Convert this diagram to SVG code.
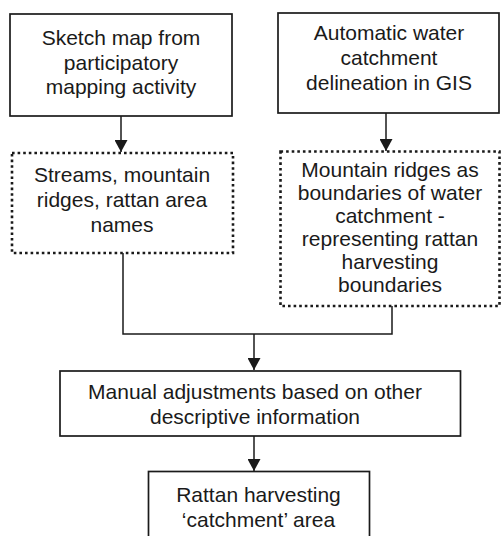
<svg xmlns="http://www.w3.org/2000/svg" width="501" height="536" viewBox="0 0 501 536">
<style>
.solid{fill:#fff;stroke:#1a1a1a;stroke-width:1.7}
.dot{fill:#fff;stroke:#1a1a1a;stroke-width:2.6;stroke-dasharray:2.6 3}
.t{font-family:"Liberation Sans",Arial,sans-serif;font-size:21px;fill:#1a1a1a;text-anchor:middle}
.c{fill:none;stroke:#1a1a1a;stroke-width:1.5}
</style>
<defs>
<marker id="ah" markerWidth="12" markerHeight="13" refX="12" refY="6.5" orient="auto" markerUnits="userSpaceOnUse">
<path d="M0,0 L12,6.5 L0,13 Z" fill="#1a1a1a"/>
</marker>
</defs>
<rect width="501" height="536" fill="#fff"/>
<g id="connectors">
<line class="c" x1="121" y1="116" x2="121" y2="152" marker-end="url(#ah)"/>
<line class="c" x1="386" y1="113" x2="386" y2="151" marker-end="url(#ah)"/>
<polyline class="c" points="123,253 123,334 392,334 392,306"/>
<line class="c" x1="254" y1="334" x2="254" y2="370" marker-end="url(#ah)"/>
<line class="c" x1="254" y1="436" x2="254" y2="471" marker-end="url(#ah)"/>
</g>
<g id="n1">
<rect class="solid" x="10" y="14" width="222" height="102"/>
<text class="t" x="121" y="45">Sketch map from</text>
<text class="t" x="121" y="69.5">participatory</text>
<text class="t" x="121" y="94">mapping activity</text>
</g>
<g id="n2">
<rect class="solid" x="278" y="13" width="221" height="100"/>
<text class="t" x="389" y="40">Automatic water</text>
<text class="t" x="389" y="65">catchment</text>
<text class="t" x="389" y="90">delineation in GIS</text>
</g>
<g id="n3">
<rect class="dot" x="12" y="153" width="221" height="100"/>
<text class="t" x="122" y="181.5">Streams, mountain</text>
<text class="t" x="122" y="206.5">ridges, rattan area</text>
<text class="t" x="122" y="231.5">names</text>
</g>
<g id="n4">
<rect class="dot" x="280.5" y="151.5" width="219" height="154.5"/>
<text class="t" x="390" y="177">Mountain ridges as</text>
<text class="t" x="390" y="200">boundaries of water</text>
<text class="t" x="390" y="223">catchment -</text>
<text class="t" x="390" y="246">representing rattan</text>
<text class="t" x="390" y="268.5">harvesting</text>
<text class="t" x="390" y="291.5">boundaries</text>
</g>
<g id="n5">
<rect class="solid" x="60" y="371" width="400.5" height="65"/>
<text class="t" x="255" y="398.5">Manual adjustments based on other</text>
<text class="t" x="255" y="423.5">descriptive information</text>
</g>
<g id="n6">
<rect class="solid" x="148.5" y="471.5" width="221" height="70"/>
<text class="t" x="258.5" y="501.5">Rattan harvesting</text>
<text class="t" x="258.5" y="526.5">‘catchment’ area</text>
</g>
</svg>
